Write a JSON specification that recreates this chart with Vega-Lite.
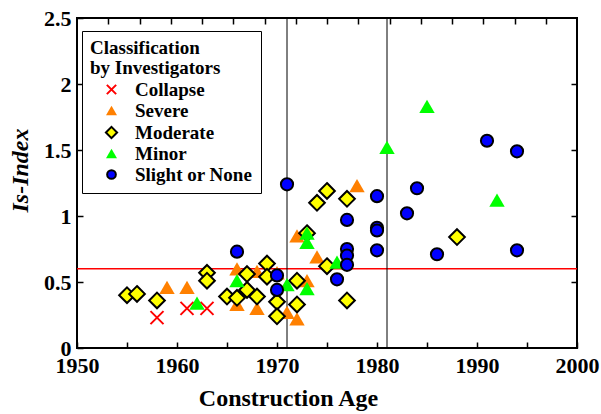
{
  "$schema": "https://vega.github.io/schema/vega-lite/v6.json",
  "width": 500,
  "height": 330,
  "autosize": {"type": "none"},
  "padding": {"left": 77, "top": 18, "right": 24, "bottom": 66},
  "background": "#ffffff",
  "config": {
    "view": {"stroke": "#000000", "strokeWidth": 2},
    "font": "Liberation Serif",
    "axis": {
      "grid": false,
      "domain": false,
      "tickColor": "#000000",
      "tickSize": -6,
      "tickWidth": 1.5,
      "labelFont": "Liberation Serif",
      "labelFontWeight": "bold",
      "labelFontSize": 22,
      "labelColor": "#000000",
      "labelFlush": false,
      "labelOverlap": false,
      "labelBound": false,
      "titleColor": "#000000",
      "titleFont": "Liberation Serif"
    },
    "legend": {
      "orient": "none",
      "legendX": 5,
      "legendY": 13,
      "fillColor": "#ffffff",
      "strokeColor": "#000000",
      "padding": 8,
      "titleFont": "Liberation Serif",
      "titleFontSize": 19,
      "titleFontWeight": "bold",
      "titleColor": "#000000",
      "titleLineHeight": 20,
      "titlePadding": 2,
      "labelFont": "Liberation Serif",
      "labelFontSize": 19,
      "labelFontWeight": "bold",
      "labelColor": "#000000",
      "symbolOffset": 12,
      "labelOffset": 14,
      "rowPadding": 1,
      "symbolStrokeWidth": 2
    }
  },
  "datasets": {
    "pts": [
      {"year": 1958, "index": 0.23, "class": "Collapse"},
      {"year": 1961, "index": 0.30, "class": "Collapse"},
      {"year": 1963, "index": 0.30, "class": "Collapse"},
      {"year": 1959, "index": 0.46, "class": "Severe"},
      {"year": 1961, "index": 0.46, "class": "Severe"},
      {"year": 1966, "index": 0.60, "class": "Severe"},
      {"year": 1966, "index": 0.33, "class": "Severe"},
      {"year": 1968, "index": 0.58, "class": "Severe"},
      {"year": 1968, "index": 0.30, "class": "Severe"},
      {"year": 1970, "index": 0.57, "class": "Severe"},
      {"year": 1971, "index": 0.27, "class": "Severe"},
      {"year": 1972, "index": 0.22, "class": "Severe"},
      {"year": 1972, "index": 0.85, "class": "Severe"},
      {"year": 1973, "index": 0.51, "class": "Severe"},
      {"year": 1974, "index": 0.69, "class": "Severe"},
      {"year": 1978, "index": 1.23, "class": "Severe"},
      {"year": 1955, "index": 0.40, "class": "Moderate"},
      {"year": 1956, "index": 0.41, "class": "Moderate"},
      {"year": 1958, "index": 0.36, "class": "Moderate"},
      {"year": 1963, "index": 0.57, "class": "Moderate"},
      {"year": 1963, "index": 0.51, "class": "Moderate"},
      {"year": 1965, "index": 0.39, "class": "Moderate"},
      {"year": 1966, "index": 0.38, "class": "Moderate"},
      {"year": 1967, "index": 0.56, "class": "Moderate"},
      {"year": 1967, "index": 0.44, "class": "Moderate"},
      {"year": 1968, "index": 0.39, "class": "Moderate"},
      {"year": 1969, "index": 0.64, "class": "Moderate"},
      {"year": 1969, "index": 0.54, "class": "Moderate"},
      {"year": 1970, "index": 0.35, "class": "Moderate"},
      {"year": 1970, "index": 0.24, "class": "Moderate"},
      {"year": 1972, "index": 0.51, "class": "Moderate"},
      {"year": 1972, "index": 0.33, "class": "Moderate"},
      {"year": 1973, "index": 0.87, "class": "Moderate"},
      {"year": 1974, "index": 1.10, "class": "Moderate"},
      {"year": 1975, "index": 1.19, "class": "Moderate"},
      {"year": 1975, "index": 0.62, "class": "Moderate"},
      {"year": 1977, "index": 1.13, "class": "Moderate"},
      {"year": 1977, "index": 0.36, "class": "Moderate"},
      {"year": 1988, "index": 0.84, "class": "Moderate"},
      {"year": 1962, "index": 0.34, "class": "Minor"},
      {"year": 1966, "index": 0.51, "class": "Minor"},
      {"year": 1971, "index": 0.48, "class": "Minor"},
      {"year": 1973, "index": 0.87, "class": "Minor"},
      {"year": 1973, "index": 0.80, "class": "Minor"},
      {"year": 1973, "index": 0.45, "class": "Minor"},
      {"year": 1976, "index": 0.65, "class": "Minor"},
      {"year": 1981, "index": 1.52, "class": "Minor"},
      {"year": 1985, "index": 1.83, "class": "Minor"},
      {"year": 1992, "index": 1.12, "class": "Minor"},
      {"year": 1966, "index": 0.73, "class": "Slight or None"},
      {"year": 1970, "index": 0.55, "class": "Slight or None"},
      {"year": 1970, "index": 0.44, "class": "Slight or None"},
      {"year": 1971, "index": 1.24, "class": "Slight or None"},
      {"year": 1976, "index": 0.52, "class": "Slight or None"},
      {"year": 1977, "index": 0.97, "class": "Slight or None"},
      {"year": 1977, "index": 0.75, "class": "Slight or None"},
      {"year": 1977, "index": 0.70, "class": "Slight or None"},
      {"year": 1977, "index": 0.63, "class": "Slight or None"},
      {"year": 1980, "index": 1.15, "class": "Slight or None"},
      {"year": 1980, "index": 0.91, "class": "Slight or None"},
      {"year": 1980, "index": 0.89, "class": "Slight or None"},
      {"year": 1980, "index": 0.74, "class": "Slight or None"},
      {"year": 1983, "index": 1.02, "class": "Slight or None"},
      {"year": 1984, "index": 1.21, "class": "Slight or None"},
      {"year": 1986, "index": 0.71, "class": "Slight or None"},
      {"year": 1991, "index": 1.57, "class": "Slight or None"},
      {"year": 1994, "index": 1.49, "class": "Slight or None"},
      {"year": 1994, "index": 0.74, "class": "Slight or None"}
    ]
  },
  "layer": [
    {
      "layer": [
        {
          "data": {"values": [{}]},
          "mark": {"type": "rule", "color": "#FF0000", "strokeWidth": 1.5},
          "encoding": {"y": {"datum": 0.6, "type": "quantitative"}}
        },
        {
          "data": {"values": [{}]},
          "mark": {"type": "rule", "color": "#000000", "strokeWidth": 1},
          "encoding": {"x": {"datum": 1971, "type": "quantitative"}}
        },
        {
          "data": {"values": [{}]},
          "mark": {"type": "rule", "color": "#000000", "strokeWidth": 1},
          "encoding": {"x": {"datum": 1981, "type": "quantitative"}}
        },
        {
          "data": {"name": "pts"},
          "mark": {"type": "point", "filled": true, "opacity": 1, "strokeWidth": 2, "size": 196},
          "encoding": {
            "x": {
              "field": "year",
              "type": "quantitative",
              "scale": {"domain": [1950, 2000], "nice": false, "zero": false},
              "axis": {
                "values": [1950, 1955, 1960, 1965, 1970, 1975, 1980, 1985, 1990, 1995, 2000],
                "format": "d",
                "labelExpr": "datum.value % 10 === 0 ? datum.label : ''",
                "labelPadding": 13,
                "title": "Construction Age",
                "titleFontSize": 24,
                "titleFontWeight": "bold",
                "titleX": 211,
                "titleY": 57,
                "titleBaseline": "alphabetic"
              }
            },
            "y": {
              "field": "index",
              "type": "quantitative",
              "scale": {"domain": [0, 2.5], "nice": false, "zero": false},
              "axis": {
                "values": [0, 0.5, 1, 1.5, 2, 2.5],
                "format": "~g",
                "labelPadding": 12,
                "title": "Is-Index",
                "titleFontSize": 24,
                "titleFontWeight": "bold",
                "titleFontStyle": "italic",
                "titleX": -50,
                "titleY": 152,
                "titleBaseline": "alphabetic"
              }
            },
            "shape": {
              "field": "class",
              "type": "nominal",
              "scale": {
                "domain": ["Collapse", "Severe", "Moderate", "Minor", "Slight or None"],
                "range": [
                  "M-0.93,-0.93L0.93,0.93M0.93,-0.93L-0.93,0.93",
                  "M0,-0.95L1.1,0.95L-1.1,0.95Z",
                  "M0,-1.12L1.12,0L0,1.12L-1.12,0Z",
                  "M0,-0.95L1.1,0.95L-1.1,0.95Z",
                  "M-0.87,0A0.87,0.87,0,1,1,0.87,0A0.87,0.87,0,1,1,-0.87,0Z"
                ]
              },
              "legend": {"title": ["Classification", "by Investigators"]}
            },
            "fill": {
              "field": "class",
              "type": "nominal",
              "scale": {
                "domain": ["Collapse", "Severe", "Moderate", "Minor", "Slight or None"],
                "range": ["#FF0000", "#FF8000", "#FFFF00", "#00FF00", "#0000FF"]
              },
              "legend": {"title": ["Classification", "by Investigators"]}
            },
            "stroke": {
              "field": "class",
              "type": "nominal",
              "scale": {
                "domain": ["Collapse", "Severe", "Moderate", "Minor", "Slight or None"],
                "range": ["#FF0000", "transparent", "#000000", "transparent", "#000000"]
              },
              "legend": {"title": ["Classification", "by Investigators"]}
            }
          }
        }
      ]
    },
    {
      "data": {"values": [{}]},
      "mark": {"type": "point", "opacity": 0},
      "encoding": {
        "x": {
          "datum": 0,
          "type": "quantitative",
          "scale": {"domain": [0, 16], "nice": false, "zero": false},
          "axis": {"orient": "top", "values": [1, 2, 3, 4, 5, 6, 7, 8, 9, 10, 11, 12, 13, 14, 15], "labels": false, "title": null}
        },
        "y": {
          "datum": 0,
          "type": "quantitative",
          "scale": {"domain": [0, 2.5], "nice": false, "zero": false},
          "axis": {"orient": "right", "values": [0.5, 1, 1.5, 2], "labels": false, "title": null}
        }
      }
    }
  ],
  "resolve": {"scale": {"x": "independent", "y": "independent"}}
}
